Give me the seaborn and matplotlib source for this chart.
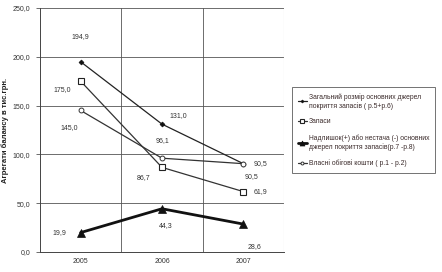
import matplotlib
matplotlib.use("Agg")
import matplotlib.pyplot as plt
import seaborn as sns
import pandas as pd
import numpy as np

years = ["2005", "2006", "2007"]
s_total = [194.9, 131.0, 90.5]
s_stock = [175.0, 86.7, 61.9]
s_surplus = [19.9, 44.3, 28.6]
s_own = [145.0, 96.1, 90.5]
names = [
    "Загальний розмір основних джерел\nпокриття запасів ( р.5+р.6)",
    "Запаси",
    "Надлишок(+) або нестача (-) основних\nджерел покриття запасів(р.7 -р.8)",
    "Власні обігові кошти ( р.1 - р.2)",
]
yticks = [0, 50, 100, 150, 200, 250]

sns.set_theme(style="white")
plt.rcParams['font.family'] = ['Liberation Sans', 'DejaVu Sans']

fig = plt.figure(figsize=(4.42, 2.72), dpi=100)
ax = fig.add_axes([40/442, 1-252/272, 244/442, 244/272])

x = np.arange(len(years))
series = [s_total, s_stock, s_surplus, s_own]
styles = [
    dict(color="#222222", lw=0.9, marker="D", ms=2.5, mfc="#111111", mec="#111111"),
    dict(color="#333333", lw=0.9, marker="s", ms=5, mfc="white", mec="#222222", mew=0.8),
    dict(color="#111111", lw=2.0, marker="^", ms=6, mfc="#111111", mec="#111111"),
    dict(color="#333333", lw=0.9, marker="o", ms=3.5, mfc="white", mec="#333333", mew=0.7),
]
for vals, name, st in zip(series, names, styles):
    df = pd.DataFrame({"x": x, "y": vals})
    sns.lineplot(data=df, x="x", y="y", ax=ax, label=name, color=st["color"],
                 linewidth=st["lw"], marker=st["marker"], markersize=st["ms"],
                 markerfacecolor=st["mfc"], markeredgecolor=st["mec"],
                 markeredgewidth=st.get("mew", 0.5))

# label offsets (points)
offsets = [
    [(0, 18), (12, 6), (12, 0)],
    [(-13, -6), (-13, -7), (12, 0)],
    [(-15, 0), (3, -12), (8, -16)],
    [(-8, -12), (0, 13), (6, -9)],
]
for vals, offs in zip(series, offsets):
    for xi, v, o in zip(x, vals, offs):
        ax.annotate(f"{v:.1f}".replace(".", ","), (xi, v), xytext=o,
                    textcoords="offset points", ha="center", va="center",
                    fontsize=5, color="#333333")

ax.set_xlim(-0.5, 2.5)
ax.set_ylim(0, 250)
ax.set_yticks(yticks)
ax.set_yticklabels([f"{t:.1f}".replace(".", ",") for t in yticks])
ax.set_xticks(x)
ax.set_xticklabels(years)
ax.set_xticks([0.5, 1.5], minor=True)
ax.grid(False)
for b in [0.5, 1.5]:
    ax.axvline(b, color="#555555", lw=0.6, zorder=0)
for t in yticks[1:]:
    ax.axhline(t, color="#555555", lw=0.6, zorder=0)
ax.tick_params(axis="both", labelsize=5, colors="#333333", length=0, pad=4)
ax.tick_params(axis="x", which="minor", length=3, width=0.6, color="#555555")
ax.tick_params(axis="y", which="major", length=3, width=0.6, color="#555555", direction="out", left=True)
ax.set_xlabel("")
ax.set_ylabel("Агрегати балансу в тис.грн.", fontsize=5.5, fontweight="bold", color="#222222")
ax.yaxis.set_label_coords(-0.125, 0.5)
for side in ["top", "right"]:
    ax.spines[side].set_visible(False)
ax.spines["left"].set_color("#444444")
ax.spines["left"].set_linewidth(0.7)
ax.spines["bottom"].set_color("#444444")
ax.spines["bottom"].set_linewidth(0.7)
ax.axvline(2.5, color="#cccccc", lw=0.8)

handles, labels = ax.get_legend_handles_labels()
ax.legend_.remove()
leg = fig.legend(handles, labels, loc="center left", bbox_to_anchor=(289/442, 1-130/272),
                 fontsize=4.9, frameon=True, fancybox=False, edgecolor="#333333",
                 handlelength=1.3, handletextpad=0.3, labelspacing=1.3,
                 borderpad=0.8, markerscale=0.6, labelcolor="#3a2a2a")
leg.get_frame().set_linewidth(0.6)

fig.savefig("out.png", dpi=100)
